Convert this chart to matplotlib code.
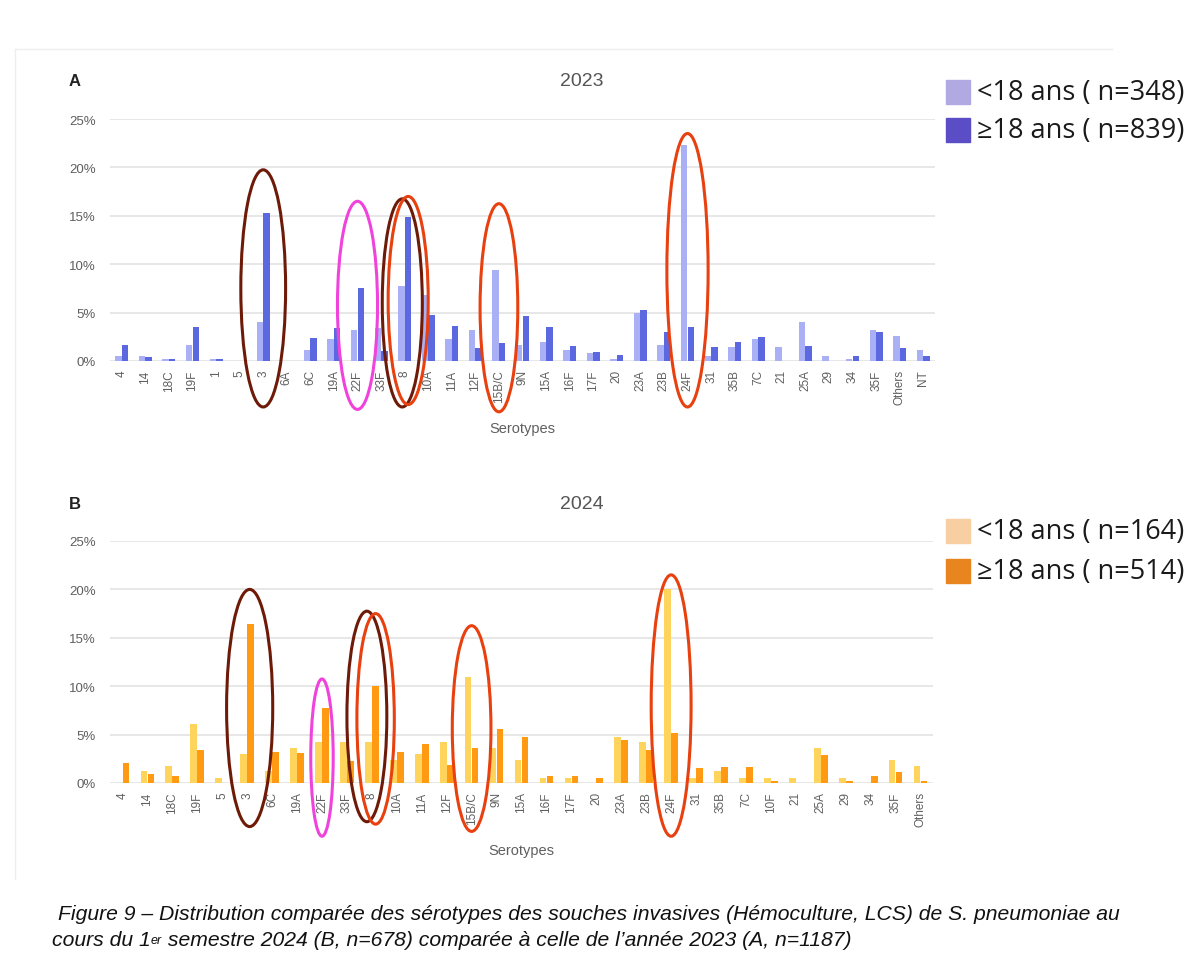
import matplotlib
matplotlib.use("Agg")
import matplotlib.pyplot as plt
from matplotlib.patches import Ellipse, Rectangle
from matplotlib.transforms import blended_transform_factory
import numpy as np

# ---- data (percent of isolates) ----
serotypes_2023 = ["4", "14", "18C", "19F", "1", "5", "3", "6A", "6C", "19A", "22F", "33F",
                  "8", "10A", "11A", "12F", "15B/C", "9N", "15A", "16F", "17F", "20", "23A",
                  "23B", "24F", "31", "35B", "7C", "21", "25A", "29", "34", "35F", "Others", "NT"]
under18_2023 = [0.5, 0.5, 0.2, 1.7, 0.2, 0.0, 4.0, 0.0, 1.1, 2.3, 3.2, 3.45,
                7.7, 6.8, 2.3, 3.2, 9.45, 1.65, 2.0, 1.1, 0.8, 0.2, 5.0,
                1.65, 22.3, 0.55, 1.45, 2.3, 1.45, 4.0, 0.55, 0.2, 3.2, 2.55, 1.1]
over18_2023 = [1.7, 0.4, 0.2, 3.5, 0.2, 0.0, 15.3, 0.05, 2.4, 3.45, 7.5, 1.0,
               14.9, 4.8, 3.6, 1.3, 1.9, 4.7, 3.55, 1.6, 0.9, 0.6, 5.3,
               3.0, 3.55, 1.45, 2.0, 2.5, 0.0, 1.6, 0.0, 0.55, 3.0, 1.3, 0.55]

serotypes_2024 = ["4", "14", "18C", "19F", "5", "3", "6C", "19A", "22F", "33F", "8", "10A",
                  "11A", "12F", "15B/C", "9N", "15A", "16F", "17F", "20", "23A", "23B", "24F",
                  "31", "35B", "7C", "10F", "21", "25A", "29", "34", "35F", "Others"]
under18_2024 = [0.0, 1.25, 1.8, 6.05, 0.55, 2.95, 1.25, 3.6, 4.2, 4.2, 4.2, 2.4,
                2.95, 4.2, 10.9, 3.6, 2.4, 0.55, 0.55, 0.0, 4.8, 4.2, 20.0,
                0.55, 1.25, 0.55, 0.55, 0.55, 3.6, 0.55, 0.0, 2.4, 1.8]
over18_2024 = [2.05, 0.95, 0.75, 3.45, 0.0, 16.4, 3.25, 3.05, 7.7, 2.25, 10.0, 3.25,
               4.0, 1.85, 3.6, 5.55, 4.8, 0.75, 0.75, 0.55, 4.4, 3.45, 5.2,
               1.5, 1.7, 1.7, 0.2, 0.0, 2.9, 0.2, 0.75, 1.1, 0.2]

legend_2023 = ["<18 ans ( n=348)", "\u226518 ans ( n=839)"]
legend_2024 = ["<18 ans ( n=164)", "\u226518 ans ( n=514)"]

# highlighted serotypes: (serotype, colour, width in categories, y range in axes fraction, x shift)
BROWN, PINK, RED = "#6e1a08", "#f043dc", "#e8400f"
marks_2023 = [("3", BROWN, 1.9, (-0.19, 0.79), 0.0),
              ("22F", PINK, 1.7, (-0.20, 0.66), 0.0),
              ("8", BROWN, 1.7, (-0.19, 0.67), -0.1),
              ("8", RED, 1.7, (-0.18, 0.68), 0.15),
              ("15B/C", RED, 1.6, (-0.21, 0.65), 0.0),
              ("24F", RED, 1.75, (-0.19, 0.94), 0.0)]
marks_2024 = [("3", BROWN, 1.85, (-0.18, 0.80), 0.1),
              ("22F", PINK, 0.9, (-0.22, 0.43), 0.0),
              ("8", BROWN, 1.6, (-0.16, 0.71), -0.2),
              ("8", RED, 1.5, (-0.17, 0.70), 0.15),
              ("15B/C", RED, 1.55, (-0.20, 0.65), 0.0),
              ("24F", RED, 1.6, (-0.22, 0.86), 0.0)]

W, H = 1192, 954
fig = plt.figure(figsize=(W / 100, H / 100), dpi=100)
fig.patch.set_facecolor("white")

FONT = ["Liberation Sans", "DejaVu Sans"]
GREY = "#5f5f5f"


def fx(px):
    return px / W


def fy(py):
    return 1 - py / H


def draw_panel(rect, cats, low, high, c_low, c_high, marks, title, letter, title_y):
    ax = fig.add_axes(rect)
    x = np.arange(len(cats))
    w = 0.27
    ax.bar(x - 0.14, low, w, color=c_low, zorder=2)
    ax.bar(x + 0.14, high, w, color=c_high, zorder=2)
    ax.set_xlim(-0.5, len(cats) - 0.5)
    ax.set_ylim(0, 25)
    ax.set_yticks(range(0, 26, 5))
    ax.set_yticklabels([f"{v}%" for v in range(0, 26, 5)], fontsize=9.5, color=GREY, family=FONT)
    ax.set_xticks(x)
    ax.set_xticklabels(cats, rotation=90, fontsize=8.5, color=GREY, family=FONT)
    ax.tick_params(axis="x", length=0, pad=6)
    ax.tick_params(axis="y", length=0, pad=10)
    ax.grid(axis="y", color="#e3e3e3", linewidth=1.2, zorder=0)
    for s in ax.spines.values():
        s.set_visible(False)
    ax.set_xlabel("Serotypes", fontsize=10.5, color=GREY, family=FONT, labelpad=12)

    trans = blended_transform_factory(ax.transData, ax.transAxes)
    for name, col, ew, (y0, y1), dx in marks:
        i = cats.index(name)
        e = Ellipse((i + dx, (y0 + y1) / 2), ew, y1 - y0, transform=trans,
                    fill=False, edgecolor=col, linewidth=2.2, clip_on=False, zorder=5)
        ax.add_patch(e)

    fig.text(fx(582), fy(title_y), title, fontsize=14, color="#555555", family=FONT,
             ha="center", va="center")
    fig.text(fx(75), fy(title_y), letter, fontsize=12, color="#222222", family=FONT,
             ha="center", va="center", fontweight="bold")
    return ax


def draw_legend(y1, y2, labels, colors):
    for yc, lab, col in zip((y1, y2), labels, colors):
        fig.patches.append(Rectangle((fx(946), fy(yc + 12)), 24 / W, 24 / H,
                                     transform=fig.transFigure, color=col))
        fig.text(fx(977), fy(yc), lab, fontsize=19.5, color="#1a1a1a",
                 family=["Open Sans", "DejaVu Sans"], va="center", ha="left")


# faint page frame
fig.add_artist(plt.Line2D([fx(15), fx(1112)], [fy(50), fy(50)], color="#eeeeee",
                          linewidth=1, transform=fig.transFigure))
fig.add_artist(plt.Line2D([fx(15), fx(15)], [fy(50), fy(880)], color="#eeeeee",
                          linewidth=1, transform=fig.transFigure))

draw_panel([fx(110), fy(362), 825 / W, 242 / H], serotypes_2023, under18_2023, over18_2023,
           "#aab0f6", "#5c68e0", marks_2023, "2023", "A", 82)
draw_panel([fx(110), fy(784), 823 / W, 242 / H], serotypes_2024, under18_2024, over18_2024,
           "#ffd45c", "#ff9a12", marks_2024, "2024", "B", 505)

draw_legend(93, 131, legend_2023, ["#b1a9e2", "#5a4dc6"])
draw_legend(532, 572, legend_2024, ["#f7cfa2", "#e8851f"])

# caption
CAP = ["Liberation Sans", "DejaVu Sans"]
CS = 15.2
fig.text(fx(58), fy(915), "Figure 9 \u2013 Distribution compar\u00e9e des s\u00e9rotypes des souches "
         "invasives (H\u00e9moculture, LCS) de S. pneumoniae au", fontsize=CS, style="italic",
         family=CAP, color="#111111", va="center", ha="left")
renderer = fig.canvas.get_renderer()
t1 = fig.text(fx(52), fy(941), "cours du 1", fontsize=CS, style="italic", family=CAP,
              color="#111111", va="center", ha="left")
bb = t1.get_window_extent(renderer)
t2 = fig.text(bb.x1 / W, fy(947), "er", fontsize=9, style="italic", family=CAP,
              color="#111111", va="bottom", ha="left")
bb2 = t2.get_window_extent(renderer)
fig.text(bb2.x1 / W, fy(941), " semestre 2024 (B, n=678) compar\u00e9e \u00e0 celle de l\u2019ann\u00e9e "
         "2023 (A, n=1187)", fontsize=CS, style="italic", family=CAP, color="#111111",
         va="center", ha="left")

fig.savefig("out.png", dpi=100)
plt.close(fig)
